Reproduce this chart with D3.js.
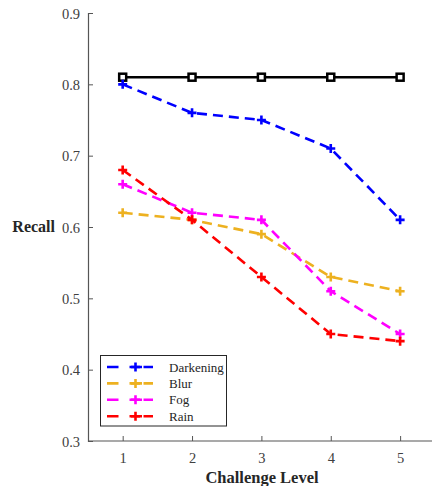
<!DOCTYPE html>
<html><head><meta charset="utf-8">
<script src="https://cdn.jsdelivr.net/npm/d3@7/dist/d3.min.js"></script>
<style>body{margin:0;background:#fff}svg{display:block}svg text{font-family:"Liberation Serif","DejaVu Serif",serif !important}</style>
</head><body>
<svg id="c" width="432" height="486" font-family="Liberation Serif"></svg>
<script>
const levels = [1, 2, 3, 4, 5];
const baseline = [0.81, 0.81, 0.81, 0.81, 0.81];
const darkening = [0.80, 0.76, 0.75, 0.71, 0.61];
const blur = [0.62, 0.61, 0.59, 0.53, 0.51];
const fog = [0.66, 0.62, 0.61, 0.51, 0.45];
const rain = [0.68, 0.61, 0.53, 0.45, 0.44];
const yTicks = [0.3, 0.4, 0.5, 0.6, 0.7, 0.8, 0.9];
const seriesNames = ["Darkening", "Blur", "Fog", "Rain"];

const colors = {Darkening: "#0000ff", Blur: "#edb120", Fog: "#ff00ff", Rain: "#ff0000"};
const series = [
  {name: "Darkening", values: darkening},
  {name: "Blur", values: blur},
  {name: "Fog", values: fog},
  {name: "Rain", values: rain}
];

const svg = d3.select("#c");
const x = d3.scaleLinear().domain([0.5, 5.5]).range([88, 434.8]);
const y = d3.scaleLinear().domain([0.3, 0.9]).range([441, 13]);
const font = "Liberation Serif";
const axisColor = "#555";

// axes
const xAxis = svg.append("g").attr("transform", "translate(0,441)")
  .call(d3.axisBottom(x).tickValues(levels).tickSize(-5).tickPadding(12).tickFormat(d3.format("d")));
const yAxis = svg.append("g").attr("transform", "translate(88,0)")
  .call(d3.axisLeft(y).tickValues(yTicks).tickSize(-5).tickPadding(8).tickFormat(d3.format(".1f")));
[xAxis, yAxis].forEach(a => {
  a.attr("font-family", font).attr("font-size", 14.5);
  a.selectAll(".domain").attr("stroke", axisColor).attr("stroke-width", 1.2);
  a.selectAll(".tick line").attr("stroke", axisColor).attr("stroke-width", 1);
  a.selectAll(".tick text").attr("fill", "#404040");
});
xAxis.select(".domain").attr("d", "M88,0H432");
yAxis.selectAll(".tick text").attr("dy", "0.35em");

// labels
svg.append("text").attr("x", 262).attr("y", 483).attr("text-anchor", "middle")
  .attr("font-family", font).attr("font-size", 16.5).attr("font-weight", "bold").attr("fill", "#262626")
  .text("Challenge Level");
svg.append("text").attr("x", 55).attr("y", 232).attr("text-anchor", "end")
  .attr("font-family", font).attr("font-size", 16).attr("font-weight", "bold").attr("fill", "#262626")
  .text("Recall");

const line = d3.line().x((d, i) => x(levels[i])).y(d => y(d));

// baseline
svg.append("path").attr("d", line(baseline)).attr("fill", "none").attr("stroke", "#000").attr("stroke-width", 2.5);
svg.selectAll(".sq").data(baseline).enter().append("rect")
  .attr("x", (d, i) => x(levels[i]) - 3.5).attr("y", d => y(d) - 3.5)
  .attr("width", 7).attr("height", 7).attr("fill", "#fff").attr("stroke", "#000").attr("stroke-width", 2.5);

function plus(g, cx, cy, col, s) {
  g.append("path").attr("d", `M${cx - s},${cy}H${cx + s}M${cx},${cy - s}V${cy + s}`)
    .attr("stroke", col).attr("stroke-width", 2.6).attr("fill", "none");
}

series.forEach(s => {
  const c = colors[s.name];
  svg.append("path").attr("d", line(s.values)).attr("fill", "none").attr("stroke", c)
    .attr("stroke-width", 2.6).attr("stroke-dasharray", "10,6");
  const g = svg.append("g");
  s.values.forEach((v, i) => plus(g, x(levels[i]), y(v), c, 4.5));
});

// legend
const lg = svg.append("g");
lg.append("rect").attr("x", 100.5).attr("y", 355.5).attr("width", 126).attr("height", 70.5)
  .attr("fill", "#fff").attr("stroke", "#262626").attr("stroke-width", 1);
seriesNames.forEach((n, i) => {
  const yy = 367 + i * 16.4;
  const c = colors[n];
  lg.append("line").attr("x1", 107).attr("x2", 153).attr("y1", yy).attr("y2", yy)
    .attr("stroke", c).attr("stroke-width", 2.6).attr("stroke-dasharray", "11.5,11,12.5,1.5,10");
  plus(lg, 135.5, yy, c, 4.5);
  lg.append("text").attr("x", 169).attr("y", yy).attr("dy", "0.35em")
    .attr("font-family", font).attr("font-size", 13).attr("fill", "#262626").text(n);
});
</script>
</body></html>
